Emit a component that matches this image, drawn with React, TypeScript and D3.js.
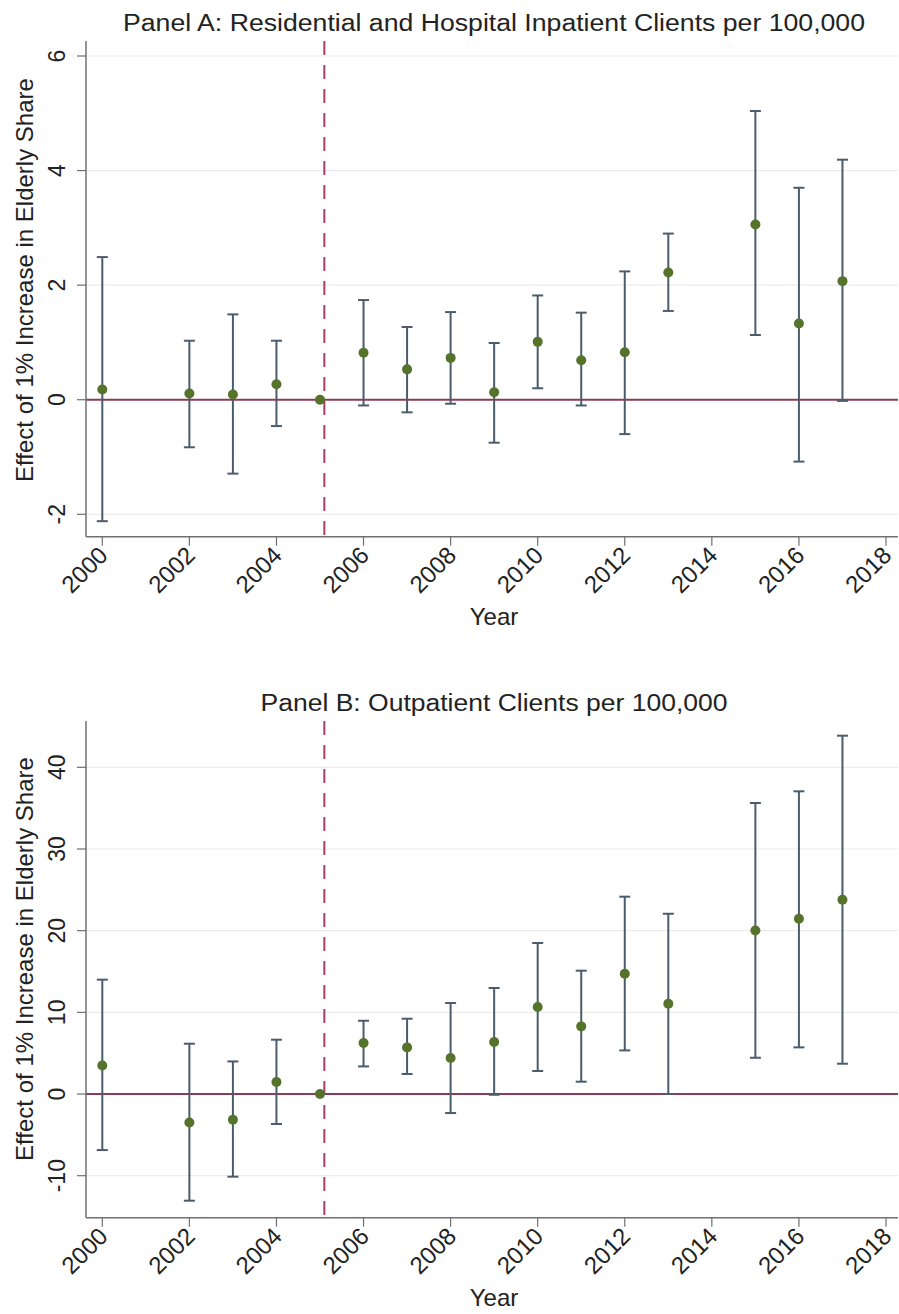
import React from "react";
import * as d3 from "d3";

// Event-study estimates by year (2005 is the omitted reference year)
const years = [2000, 2002, 2003, 2004, 2005, 2006, 2007, 2008, 2009, 2010, 2011, 2012, 2013, 2015, 2016, 2017];

// Panel A: residential and hospital inpatient clients per 100,000
const estA = [0.18, 0.11, 0.09, 0.27, 0, 0.82, 0.53, 0.73, 0.13, 1.01, 0.69, 0.83, 2.22, 3.06, 1.33, 2.07];
const loA = [-2.12, -0.83, -1.29, -0.46, null, -0.10, -0.22, -0.07, -0.75, 0.20, -0.10, -0.60, 1.55, 1.13, -1.08, -0.02];
const hiA = [2.49, 1.03, 1.49, 1.03, null, 1.74, 1.27, 1.53, 0.99, 1.82, 1.52, 2.24, 2.90, 5.04, 3.70, 4.19];

// Panel B: outpatient clients per 100,000
const estB = [3.5, -3.48, -3.15, 1.47, 0, 6.24, 5.71, 4.41, 6.37, 10.65, 8.28, 14.73, 11.06, 20.03, 21.46, 23.79];
const loB = [-6.86, -13.06, -10.12, -3.67, null, 3.38, 2.45, -2.33, -0.09, 2.82, 1.51, 5.34, 0.0, 4.44, 5.71, 3.71];
const hiB = [14.0, 6.16, 3.99, 6.65, null, 8.97, 9.22, 11.14, 12.98, 18.49, 15.10, 24.16, 22.07, 35.63, 37.06, 43.87];

const xTicks = [2000, 2002, 2004, 2006, 2008, 2010, 2012, 2014, 2016, 2018];
const yTicksA = [-2, 0, 2, 4, 6];
const yTicksB = [-10, 0, 10, 20, 30, 40];

const titleA = "Panel A: Residential and Hospital Inpatient Clients per 100,000";
const titleB = "Panel B: Outpatient Clients per 100,000";
const yTitle = "Effect of 1% Increase in Elderly Share";
const xTitle = "Year";
const treatmentLine = 2005.1;

const FONT = "'Liberation Sans', Arial, Helvetica, sans-serif";
const W = 899;
const H = 1314;
const plotLeft = 86;
const plotRight = 898;

const x = d3.scaleLinear().domain([2000, 2018]).range([102.3, 886]);

type PanelProps = {
  title: string;
  titleLen: number;
  est: number[];
  lo: (number | null)[];
  hi: (number | null)[];
  yTicks: number[];
  yDomain: [number, number];
  yRange: [number, number];
  top: number;
  bottom: number;
  titleY: number;
  yTitleY: number;
};

function Panel(p: PanelProps) {
  const y = d3.scaleLinear().domain(p.yDomain).range(p.yRange);
  const capHalf = 5.5;
  return (
    <g>
      <text
        x={494}
        y={p.titleY}
        textAnchor="middle"
        fontFamily={FONT}
        fontSize={23}
        fill="#222"
        textLength={p.titleLen}
        lengthAdjust="spacingAndGlyphs"
      >
        {p.title}
      </text>
      {/* gridlines */}
      {p.yTicks.filter((t) => t !== 0).map((t) => (
        <line key={"g" + t} x1={plotLeft} x2={plotRight} y1={y(t)} y2={y(t)} stroke="#ebebeb" strokeWidth={1.2} />
      ))}
      {/* reference lines */}
      <line x1={plotLeft} x2={plotRight} y1={y(0)} y2={y(0)} stroke="#8e3a56" strokeWidth={2} />
      <line
        x1={x(treatmentLine)}
        x2={x(treatmentLine)}
        y1={p.top}
        y2={p.bottom}
        stroke="#a63d66"
        strokeWidth={2}
        strokeDasharray="14 10"
      />
      {/* confidence intervals */}
      {years.map((yr, i) => {
        const lo = p.lo[i];
        const hi = p.hi[i];
        if (lo == null || hi == null) return null;
        const cx = x(yr);
        return (
          <g key={"ci" + yr} stroke="#4b5c6c" strokeWidth={2}>
            <line x1={cx} x2={cx} y1={y(lo)} y2={y(hi)} />
            <line x1={cx - capHalf} x2={cx + capHalf} y1={y(lo)} y2={y(lo)} />
            <line x1={cx - capHalf} x2={cx + capHalf} y1={y(hi)} y2={y(hi)} />
          </g>
        );
      })}
      {/* point estimates */}
      {years.map((yr, i) => (
        <circle key={"p" + yr} cx={x(yr)} cy={y(p.est[i])} r={5} fill="#55732b" />
      ))}
      {/* axes */}
      <line x1={plotLeft} x2={plotLeft} y1={p.top} y2={p.bottom} stroke="#707070" strokeWidth={1.5} />
      <line x1={plotLeft} x2={plotRight} y1={p.bottom} y2={p.bottom} stroke="#707070" strokeWidth={1.5} />
      {p.yTicks.map((t) => (
        <g key={"yt" + t}>
          <line x1={plotLeft - 9} x2={plotLeft} y1={y(t)} y2={y(t)} stroke="#707070" strokeWidth={1.2} />
          <text
            transform={`translate(${65},${y(t)}) rotate(-90)`}
            textAnchor="middle"
            fontFamily={FONT}
            fontSize={23}
            fill="#222"
          >
            {t}
          </text>
        </g>
      ))}
      {xTicks.map((t) => (
        <g key={"xt" + t}>
          <line x1={x(t)} x2={x(t)} y1={p.bottom} y2={p.bottom + 9} stroke="#707070" strokeWidth={1.2} />
          <text
            transform={`translate(${x(t) + 7},${p.bottom + 20}) rotate(-45)`}
            textAnchor="end"
            fontFamily={FONT}
            fontSize={24}
            fill="#222"
          >
            {t}
          </text>
        </g>
      ))}
      <text
        transform={`translate(${33},${p.yTitleY}) rotate(-90)`}
        textAnchor="middle"
        fontFamily={FONT}
        fontSize={24}
        fill="#222"
      >
        {yTitle}
      </text>
      <text x={494} y={p.bottom + 88} textAnchor="middle" fontFamily={FONT} fontSize={24} fill="#222">
        {xTitle}
      </text>
    </g>
  );
}

export default function App() {
  return (
    <svg
      width={W}
      height={H}
      viewBox={`0 0 ${W} ${H}`}
      style={{ position: "absolute", left: 0, top: 0, background: "#fff" }}
    >
      <rect width={W} height={H} fill="#fff" />
      <Panel
        title={titleA}
        titleLen={742}
        est={estA}
        lo={loA}
        hi={hiA}
        yTicks={yTicksA}
        yDomain={[6, -2]}
        yRange={[56, 514.3]}
        top={41}
        bottom={536.7}
        titleY={31}
        yTitleY={280}
      />
      <Panel
        title={titleB}
        titleLen={467}
        est={estB}
        lo={loB}
        hi={hiB}
        yTicks={yTicksB}
        yDomain={[40, -10]}
        yRange={[767.3, 1175.7]}
        top={721}
        bottom={1217.7}
        titleY={711}
        yTitleY={959}
      />
    </svg>
  );
}
